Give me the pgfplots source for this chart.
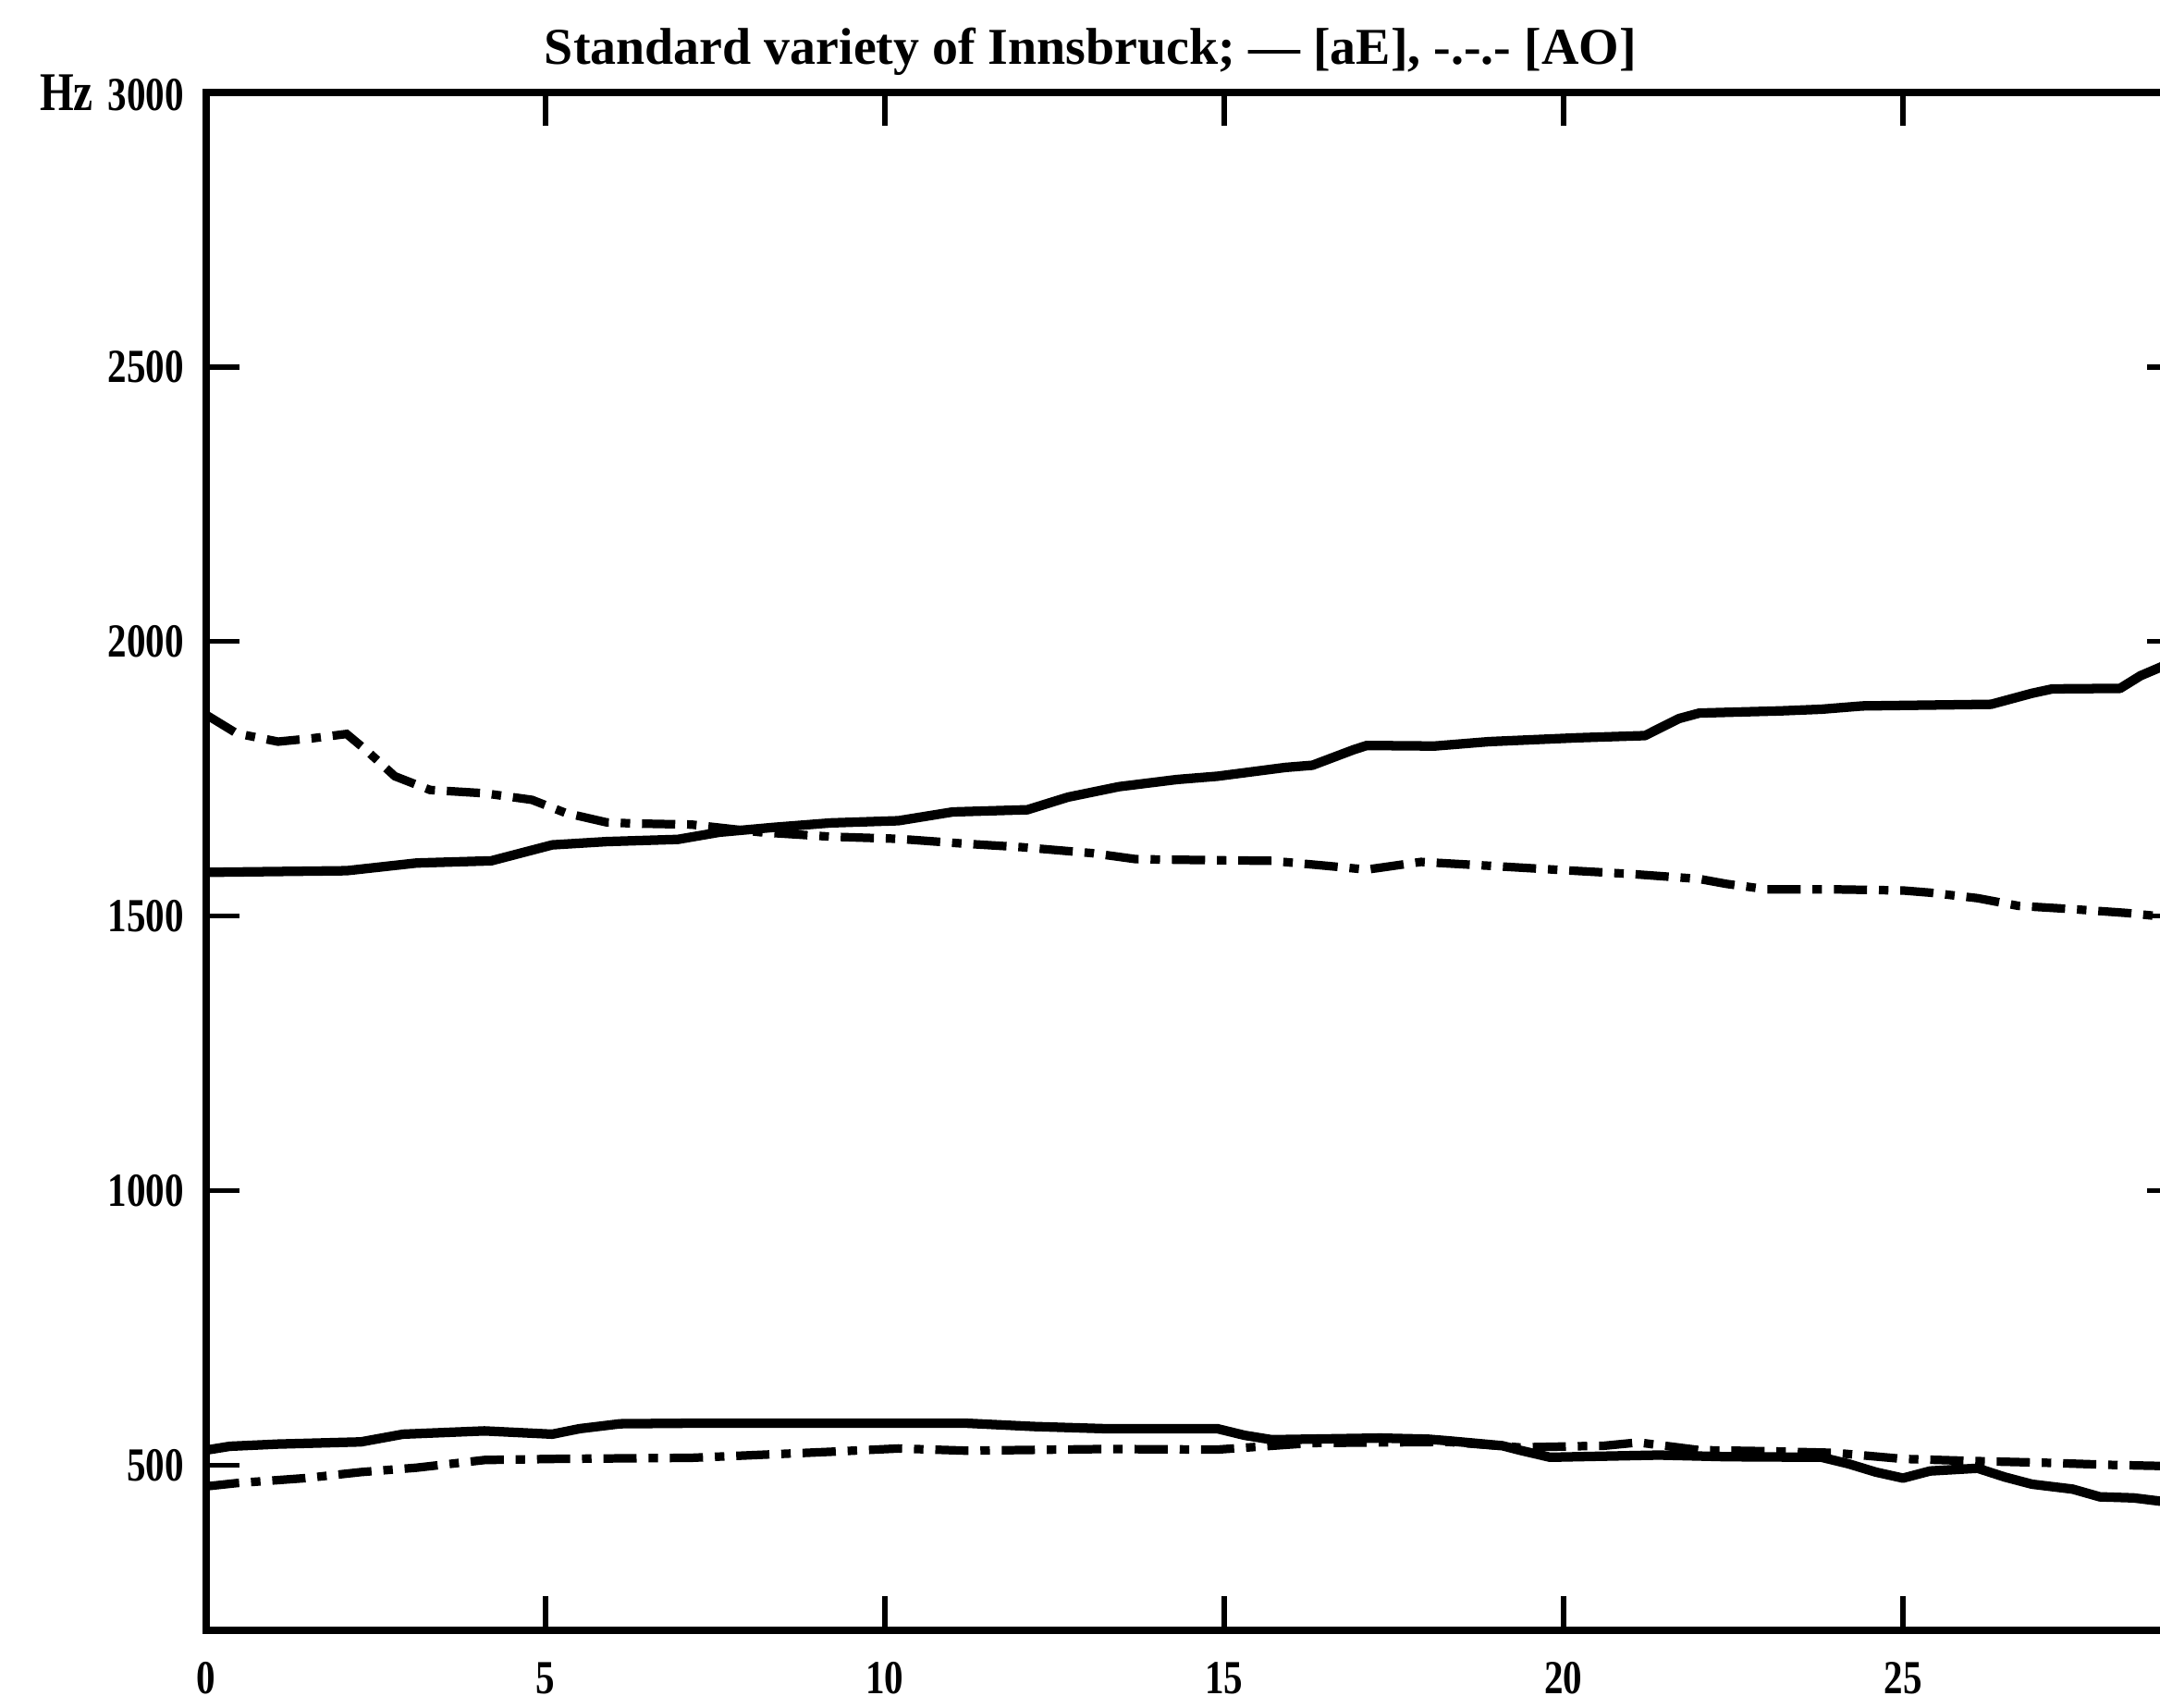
\documentclass[border=0pt]{standalone}
\usepackage{fontspec}
\setmainfont{Liberation Serif}
\newfontfamily\tickfont{Liberation Serif}[FakeStretch=0.8]
\usepackage{pgfplots}
\pgfplotsset{compat=1.18}

% formant tracks
\pgfplotstableread{
x F
0 1580
2.07 1583
3.1 1597
4.2 1601
5.1 1630
5.9 1636
6.95 1640
7.56 1653
8.37 1662
9.2 1670
10.2 1674
11.0 1690
12.1 1694
12.7 1717
13.45 1736
14.3 1749
14.9 1755
15.9 1771
16.3 1775
16.9 1803
17.1 1811
18.1 1810
18.9 1818
20.2 1825
21.2 1829
21.7 1860
22.0 1870
23.2 1874
23.8 1877
24.4 1883
26.3 1886
26.9 1906
27.2 1914
28.2 1915
28.5 1938
28.86 1957
29.1 1965
}\aEtwo
\pgfplotstableread{
x F
0 1867
0.45 1833
1.06 1818
1.56 1824
2.07 1832
2.38 1800
2.78 1755
3.3 1730
4.1 1724
4.8 1712
5.3 1688
5.9 1671
6.3 1669
7.15 1667
8.17 1653
9.2 1645
10.2 1641
11.2 1632
12.0 1626
13.05 1615
13.7 1604
14.9 1602
15.7 1601
16.5 1592
17.1 1585
17.9 1599
18.9 1592
20.0 1584
21.0 1577
22.0 1568
22.4 1559
23.0 1549
24.0 1549
25.0 1547
25.4 1543
26.1 1533
26.7 1519
27.5 1513
28.3 1506
28.86 1499
29.1 1497
}\AOtwo
\pgfplotstableread{
x F
0 528
0.35 535
1.06 539
2.28 543
2.9 557
4.1 563
5.1 557
5.5 567
6.1 576
7.15 577
9.2 577
11.2 577
12.2 571
13.25 567
14.9 567
15.3 555
15.7 547
17.3 550
18.0 548
18.3 545
19.1 536
19.35 528
19.8 515
21.4 519
22.4 516
23.8 515
24.2 503
24.6 488
25.0 477
25.4 490
26.1 495
26.5 479
26.9 466
27.5 457
27.9 443
28.4 441
28.86 434
29.1 430
}\aEone
\pgfplotstableread{
x F
0 462
0.45 468
1.46 477
2.28 488
3.1 496
4.1 510
5.1 512
7.15 514
9.2 525
10.2 531
11.2 527
13.25 530
14.9 529
16.3 541
18.3 543
19.35 533
20.6 536
21.1 542
22.0 528
23.0 526
24.0 523
25.0 512
26.1 508
27.1 505
28.1 501
28.86 499
29.1 499
}\AOone

\begin{document}
\begin{tikzpicture}
  \useasboundingbox (-1.527,-0.575) rectangle (14.473,12.075);
  \clip (-1.527,-0.575) rectangle (14.473,12.075);
  \begin{axis}[
      at={(0,0)}, anchor=south west,
      scale only axis, width=14.63cm, height=11.39cm,
      xmin=0, xmax=29.1, ymin=200, ymax=3000,
      xtick={0,5,10,15,20,25},
      xticklabels={0,5,10,15,20,25},
      ytick={500,1000,1500,2000,2500,3000},
      yticklabels={500,1000,1500,2000,2500,{{\fontsize{11.5}{12}\selectfont\bfseries Hz}\hspace{0.11cm}3000}},
      ticklabel style={font=\tickfont\fontsize{10}{12}\selectfont\bfseries},
      xticklabel style={yshift=-0.115cm},
      yticklabel style={xshift=-0.04cm},
      tick align=inside,
      major tick length=0.25cm,
      tick style={black, line width=1pt},
      axis line style={line width=1.5pt},
      clip=false,
    ]
    \addplot[black, line width=2pt, line join=round] table {\aEtwo};
    \addplot[black, line width=1.8pt, dash pattern=on 7pt off 2.5pt on 2pt off 2.5pt] table {\AOtwo};
    \addplot[black, line width=2pt, line join=round] table {\aEone};
    \addplot[black, line width=1.8pt, dash pattern=on 7pt off 2.5pt on 2pt off 2.5pt] table {\AOone};
    \node[font=\fontsize{10.9}{12}\selectfont\bfseries] at (axis cs:13.03,3000) [yshift=0.30cm]
      {Standard variety of Innsbruck; --- [aE], -.-.- [AO]};
  \end{axis}
\end{tikzpicture}
\end{document}
